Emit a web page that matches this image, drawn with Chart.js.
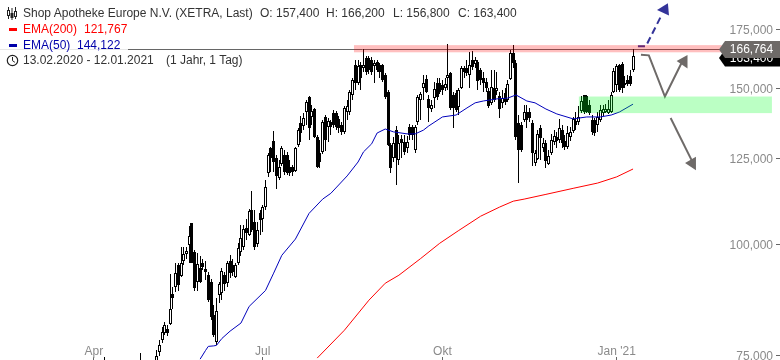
<!DOCTYPE html>
<html>
<head>
<meta charset="utf-8">
<style>
  body { margin: 0; background: #fff; font-family: "Liberation Sans", Arial, sans-serif; font-size: 12px; }
  #wrap { position: relative; width: 780px; height: 360px; overflow: hidden; }
  canvas { position: absolute; left: 0; top: 0; }
  .row { position: absolute; left: 0; height: 15px; line-height: 15px; white-space: nowrap; padding-left: 23px; color: #333; }
  .row span { position: absolute; top: 0; }
  .dash { position: absolute; left: 9px; top: 6px; width: 8px; height: 3px; }
</style>
</head>
<body>
<div id="wrap">
  <canvas id="chart" width="780" height="360"></canvas>
  <div class="row" style="top:6px"><svg style="position:absolute;left:6px;top:1px" width="12" height="13" stroke="#222" fill="none"><path d="M2.5 0v12M6 1v12M9.5 0v12"/><rect x="1.5" y="3.5" width="2" height="5" fill="#fff"/><rect x="5" y="6.5" width="2" height="4" fill="#222"/><rect x="8.5" y="4.5" width="2" height="5" fill="#fff"/></svg>Shop Apotheke Europe N.V. (XETRA, Last)<span style="left:260px">O: 157,400</span><span style="left:326px">H: 166,200</span><span style="left:393px">L: 156,800</span><span style="left:458px">C: 163,400</span></div>
  <div class="row" style="top:22px;color:#f00"><i class="dash" style="background:#f00"></i>EMA(200)<span style="left:84px">121,767</span></div>
  <div class="row" style="top:38px;color:#00a;width:105px;background:rgba(255,255,255,.85)"><i class="dash" style="background:#00a"></i>EMA(50)<span style="left:77px">144,122</span></div>
  <div class="row" style="top:53px"><svg style="position:absolute;left:6px;top:1px" width="13" height="13" stroke="#222" fill="none"><circle cx="6.5" cy="6.5" r="5.2" stroke-width="1.2"/><path d="M6.5 3v3.7l2.4 1.6"/></svg>13.02.2020 - 12.01.2021<span style="left:166px">(1 Jahr, 1 Tag)</span></div>
</div>
<script src="https://cdn.jsdelivr.net/npm/chart.js@4"></script>
<script>
// Daily candles, one entry per trading-day slot starting at firstSlot
const firstSlot = 38;
const opens = [
  72,73,72.4,71.6,72,71.5,70.6,71.3,72.1,71,70.2,70.7,71.6,72.5,73.4,72.4,72.9,72.6,73.2,
  73.9,75.6,78,79.5,80.4,81.4,87.9,89.5,94.8,92.2,95.8,97.6,99.9,105.8,98.1,90.7,94.1,95.5,93.8,92.4,90.7,83.3,77.6,87.7,88.2,
  92.4,90.5,96,94.8,91.9,95.3,98.1,99.4,104.4,102.6,109.4,106,100.2,108.5,106.9,110.3,120.5,128.6,131,125.3,119,123.4,126.3,126.3,
  122.4,122.4,121.1,129.6,137.2,136.2,141.2,146.8,139.4,142.3,132.3,127,127.3,139.4,135.8,137.6,140.8,140.8,138.7,136.5,134.1,141.2,
  141.2,147.6,159.5,152.3,159.5,158.3,162.4,162.4,161.6,159.1,160.8,159.5,159.5,155.5,148.7,129.6,125.3,134.7,124.6,131.6,130.6,128.6,
  135.8,135.8,127.9,137.6,145.7,150.3,153.8,146.1,142.3,146.4,152.3,152.3,151.5,150.3,154.2,156.3,147.6,148.4,143.1,150.3,158.3,158.3,
  155.5,161.6,160,160.8,157.5,154.2,152.6,149.1,144.6,150.3,149.1,147.2,144.6,148.4,145.7,153.8,164.6,160.4,137.2,136.5,138.3,141.2,
  141.2,137.2,123.7,125,135.5,128.6,130.3,123.4,127,130.6,132.3,131.3,134.7,131,129,132.3,134.4,138,137.6,141.6,147.6,147.2,143.8,
  138.3,138.3,136.5,138.3,140.8,141.2,140.8,141.2,148.7,151.5,159.5,160,152.3,153.4,155,157.4
];
const highs = [
  74.7,73.6,73.2,72.4,73,72.2,71.8,72.6,72.8,71.9,71,72,73,75.4,73.8,73.2,73.6,73.5,73.9,
  76,78,80.8,81.8,81.2,92.6,89.5,95.3,95.3,99.4,99.4,99.4,104.9,105.8,98.6,97.8,97.1,96.3,96,93.1,91.4,85.5,87,90.7,94.1,
  93.1,96,97.3,96.5,95.5,100.4,105.2,105.2,106.9,109.7,114.9,109.4,106,109.4,110.8,118.3,127,129,134.4,126.3,124.6,129.3,127.9,127.3,
  124.6,123.1,129,135.5,139.8,140.8,145.7,147.2,143.8,142.7,133,131.3,138.3,140.1,139,138.3,141.9,141.6,139.8,137.6,143.4,145.7,
  149.5,154.2,161.6,161.6,160.8,166.3,163.4,163.4,163,161.6,161.6,160.4,159.9,156.3,149.5,130.3,132.3,136.2,133,133,133,132.7,
  136.9,136.5,136.5,147.6,148.7,155.5,155.5,147.6,145.7,152.6,154.2,154.2,153.4,154.2,168.6,156.7,148.7,149.5,150.3,159.1,159.1,161.6,
  165,165.5,163,161.6,158.3,156.7,154.2,150.3,157.5,157.5,156.7,148.7,149.5,150.3,153.4,165.9,168,161.6,140.1,137.6,143.8,143.8,
  142.7,138.3,127.9,134.7,136.5,132,131.3,127.9,133.4,134.7,134.1,138.7,136.5,133,136.2,135.8,139.4,141.2,143.4,147.2,147.6,147.6,145.7,
  140.1,139,141.2,143.8,143.8,144.2,145.7,148.7,158.3,160,160,160.8,155,155.5,157.5,166.2
];
const lows = [
  71.5,71.8,71,70.4,71.2,70,70,70.8,70.5,69.8,69,70.2,71,72,72,71.6,72.2,72,72.5,
  73.7,74.9,77.4,79.1,78.9,81.2,84.6,88.4,88.8,91.9,94.8,96.5,95.5,95.5,88.8,88.8,90.5,93.6,91.2,86.1,82.2,78.7,77,85.9,86.6,
  88.8,89.5,91.7,92.2,91.7,94.8,97.1,98.6,101.2,102.3,103.3,98.6,99.4,102.6,103.3,109.4,119.3,120.8,120.8,115.5,118.3,122.7,119.9,119.9,
  119.6,119.6,120.8,129,130.6,134.7,136.5,131.3,136.5,132,122.1,122.1,126.6,127.6,130.6,133,135.5,134.7,133.7,133,133.4,138.3,
  140.1,145.7,149.5,151.5,149.5,156.7,155.5,155.9,155.5,152.3,156.7,154.2,152.6,146.1,129.3,120.5,124,116.8,123.1,125.3,126.3,127,
  131.3,131.3,127,136.5,138.3,145.7,148.4,137.6,141.2,142.7,145.7,148,147.6,149.1,149.5,141.9,135.5,141.2,140.1,149.9,154.2,155,
  150.3,157.5,158.3,149.5,151.5,148.7,148.7,142.7,143.8,144.9,147.6,139,142.7,143.8,144.9,153.4,158.3,131.3,117.4,127.3,137.6,135.5,
  137.6,122.7,122.7,124.6,124.6,127.3,122.1,123.1,126.3,129.6,128.6,130.3,128.6,127.9,128.3,131,133.7,134.7,136.5,140.8,140.5,140.8,140.1,
  133,132.7,134.1,137.6,139.8,140.8,140.5,140.8,148.4,148.7,148.7,148.4,150.3,151.1,151.1,156.8
];
const closes = [
  73,72.4,71.6,72,71.5,70.6,71.3,72.1,71,70.2,70.7,71.6,72.5,73.4,72.4,72.9,72.6,73.2,73.1,
  74.9,77,79.7,81.2,79.5,84.6,87.2,92.9,90,95.3,97.6,98.3,102.3,95.5,89.3,95.1,90.9,94.3,93.1,86.6,82.8,79.1,84.3,90.2,93.4,
  90.2,95.5,92.9,93.1,94.8,99.1,101.7,104.1,103.1,109.1,103.8,99.4,103.8,106.6,110.3,116.2,126.3,125.3,124,119.6,122.4,128.6,120.8,120.5,
  120.5,120.8,128.6,134.7,133.7,139,144.9,135.5,141.6,132.3,122.4,124,137.6,131.3,138,135.8,136.5,135.8,135.5,134.1,142.7,143.4,
  148.7,153.4,152.3,159.1,154.2,159.5,156.7,157.5,156.7,160.4,157.5,156.7,153.4,146.8,129.6,122.1,130.3,125.3,130.3,130.3,127.3,130.6,
  133,133,135.8,146.8,148,152.3,148.7,142.7,143.8,149.9,146.8,148.7,149.5,151.9,155.5,142.7,142.7,141.9,149.5,158.3,156.7,156.3,
  159.5,158.7,161.6,153,153.4,152.3,150.3,143.4,150.7,145.7,150.3,142.3,146.4,144.9,151.9,164.6,160.4,132.3,127.9,127.9,141.2,138.3,
  139,127,127,133.4,132,130.3,124.3,126,131.3,132.7,131,135.5,130.3,129,133.7,134.1,138.7,136.5,139.4,145.3,141.2,141.2,140.8,
  134.1,133.7,139.4,141.9,142.3,142.3,142.3,147.6,157.1,159.1,149.5,150.3,151.5,151.9,151.9,163.4
];

// EMA lines, read at the slots listed next to them
const ema50Slots = [73,75,76,78,79,81,84,88,91,97,100,103,108,113,118,121,127,131,133,136,138,141,144,149,152,155,157,162,167,171,174,177,182,186,189,193,196,200,204,210,215,220,224,227,232];
const ema50Values = [74.3,76,76.8,76.9,77,78.4,79.9,81.6,85.2,88.8,92.9,97.3,101.5,108.5,112.6,114.3,119.6,124,127.3,130,133.7,135.1,134.1,133.4,133.4,134.7,136.2,139.4,140.1,142.7,144.6,145.3,146.1,146.4,147.6,145.3,144.6,142.3,140.5,138.7,139.4,139.4,140.1,141.2,144.122];
const ema200Slots = [116,126,135,141,146,154,161,168,176,183,188,192,200,210,219,226,232];
const ema200Values = [74.5,80.1,86.6,90.5,92.4,96.5,100.4,103.8,107.7,110.3,112,112.6,114,115.8,117.4,119.3,121.767];

// Axis ticks
const priceTicks = [75, 100, 125, 150, 175];
const monthSlots = [34, 96, 162, 226];
const monthLabels = ['Apr', 'Jul', 'Okt', "Jan '21"];

// Drawn analysis: zones as [slot from, slot to, price top, price bottom], arrows as [slot, price]
const lastPrice = 166.764;
const lastClose = 163.4;
const resistanceZone = [129.5, 264.6, 168, 164.9];
const supportZone = [212.1, 283, 147, 140.8];
const blueArrow = [[233.8,167.5],[236.7,167.5],[242.5,181.7]];
const blueHead = [[244.8,187.3],[240.8,184.1],[245.2,181.4]];
const upArrow = [[234.9,163.8],[237.8,163.6],[243.7,147],[249.8,160.4]];
const upHead = [[252,163.7],[248,161.2],[252,158.1]];
const downArrow = [[245.8,139],[253.5,124.6]];
const downHead = [[255.1,121.4],[251.1,123.7],[255.1,125.7]];

const fmtPrice = v => v.toFixed(3).replace('.', ',');
const slots = opens.map((_, i) => firstSlot + i);
const toPoints = list => list.map(p => ({ x: p[0], y: p[1] }));
const axisFont = { family: '"Liberation Sans", Arial, sans-serif', size: 12 };

const arrowLine = (list, color, dash) => ({
  type: 'line', data: toPoints(list), borderColor: color, borderWidth: 2,
  borderDash: dash || [], pointRadius: 0, fill: false, tension: 0
});
const arrowHead = (list, color) => ({
  type: 'line', data: toPoints(list.concat([list[0]])), borderColor: color, borderWidth: 0,
  backgroundColor: color, pointRadius: 0, fill: 'shape', tension: 0
});
const emaLine = (xs, ys, color) => ({
  type: 'line', data: xs.map((x, i) => ({ x, y: ys[i] })), borderColor: color,
  borderWidth: 1, pointRadius: 0, fill: false, tension: 0
});

// Price line, zones and the value tags on the right
const overlays = {
  id: 'overlays',
  beforeDatasetsDraw(chart) {
    const { ctx, scales: { y } } = chart;
    // snap candles to whole pixels so they stay crisp
    chart.getSortedVisibleDatasetMetas().filter(m => m.type === 'bar').forEach(meta => {
      meta.data.forEach(bar => {
        bar.x = Math.floor(bar.x) + 0.5;
        bar.y = Math.round(bar.y);
        bar.base = Math.round(bar.base);
      });
    });
    const py = Math.round(y.getPixelForValue(lastPrice)) + 1.5;
    ctx.save();
    ctx.strokeStyle = '#666';
    ctx.lineWidth = 1;
    ctx.beginPath();
    ctx.moveTo(0, py);
    ctx.lineTo(725, py);
    ctx.stroke();
    ctx.restore();
  },
  afterDatasetsDraw(chart) {
    const { ctx, scales: { x, y } } = chart;
    const zone = (z, color) => {
      const left = x.getPixelForValue(z[0]), right = x.getPixelForValue(z[1]);
      const top = y.getPixelForValue(z[2]), bottom = y.getPixelForValue(z[3]);
      ctx.fillStyle = color;
      ctx.fillRect(left, top, right - left, bottom - top);
    };
    const tag = (value, color, offset) => {
      const py = Math.round(y.getPixelForValue(value)) + offset;
      ctx.fillStyle = color;
      ctx.beginPath();
      ctx.moveTo(719, py);
      ctx.lineTo(725, py - 8.5);
      ctx.lineTo(780, py - 8.5);
      ctx.lineTo(780, py + 8.5);
      ctx.lineTo(725, py + 8.5);
      ctx.closePath();
      ctx.fill();
      ctx.fillStyle = '#fff';
      ctx.font = '12px "Liberation Sans", Arial, sans-serif';
      ctx.textAlign = 'center';
      ctx.textBaseline = 'middle';
      ctx.fillText(fmtPrice(value), 751.5, py + 0.5);
    };
    ctx.save();
    zone(resistanceZone, 'rgba(255,0,0,0.25)');
    zone(supportZone, 'rgba(0,255,34,0.267)');
    tag(lastClose, '#000', 2);
    tag(lastPrice, '#6e6a68', 1.5);
    ctx.restore();
  }
};

new Chart(document.getElementById('chart'), {
  type: 'bar',
  data: {
    datasets: [
      arrowHead(blueHead, '#333399'),
      arrowLine(blueArrow, '#333399', [7, 4]),
      arrowHead(upHead, '#6e6a68'),
      arrowLine(upArrow, '#6e6a68'),
      arrowHead(downHead, '#6e6a68'),
      arrowLine(downArrow, '#6e6a68'),
      emaLine(ema200Slots, ema200Values, '#f00'),
      emaLine(ema50Slots, ema50Values, '#0000bb'),
      {
        // candle bodies, hollow when the day closed higher
        data: slots.map((s, i) => ({ x: s, y: [opens[i], closes[i]] })),
        backgroundColor: slots.map((s, i) => closes[i] >= opens[i] ? '#fff' : '#000'),
        borderColor: '#000',
        borderWidth: 1,
        borderSkipped: false,
        inflateAmount: 0,
        barThickness: 3,
        grouped: false
      },
      {
        // candle wicks
        data: slots.map((s, i) => ({ x: s, y: [lows[i], highs[i]] })),
        backgroundColor: '#000',
        borderWidth: 0,
        inflateAmount: 0,
        barThickness: 1,
        grouped: false
      }
    ]
  },
  options: {
    responsive: false,
    animation: false,
    layout: { padding: 0 },
    plugins: { legend: { display: false }, tooltip: { enabled: false } },
    scales: {
      x: {
        type: 'linear',
        offset: false,
        min: -0.5,
        max: 284.5,
        afterFit: scale => { scale.height = 0; scale.paddingLeft = 0; scale.paddingRight = 0; },
        afterBuildTicks: scale => { scale.ticks = monthSlots.map(v => ({ value: v })); },
        border: { display: false },
        grid: { offset: false, drawOnChartArea: false, tickLength: -3, tickColor: '#666' },
        ticks: {
          mirror: true,
          autoSkip: false,
          maxRotation: 0,
          padding: 1,
          color: '#8a8a8a',
          font: axisFont,
          callback: v => monthLabels[monthSlots.indexOf(v)]
        }
      },
      y: {
        type: 'logarithmic',
        position: 'right',
        min: 74.13,
        max: 188.9,
        afterFit: scale => { scale.width = 4; scale.paddingTop = 0; scale.paddingBottom = 0; },
        afterBuildTicks: scale => { scale.ticks = priceTicks.map(v => ({ value: v })); },
        border: { display: false },
        grid: { drawOnChartArea: false, tickLength: 4, tickColor: '#666' },
        ticks: {
          mirror: true,
          autoSkip: false,
          padding: -3,
          labelOffset: 1,
          color: '#8a8a8a',
          font: axisFont,
          callback: v => fmtPrice(v)
        }
      }
    }
  },
  plugins: [overlays]
});
</script>
</body>
</html>
